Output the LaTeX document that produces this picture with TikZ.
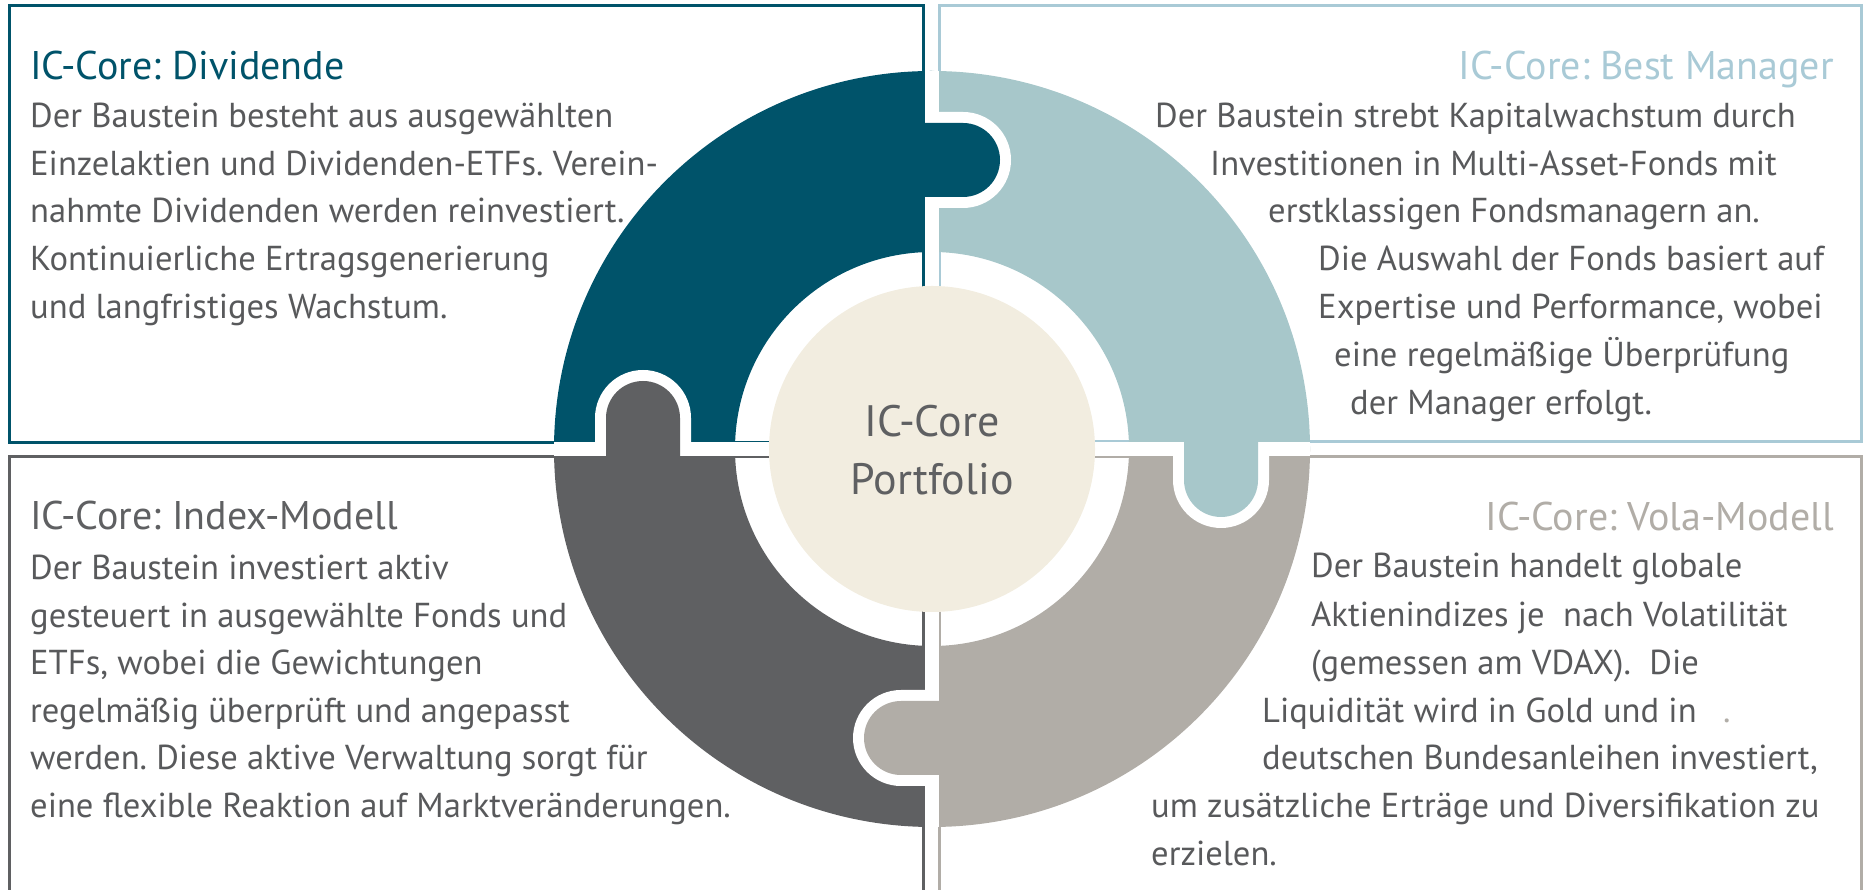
\documentclass[tikz,border=0pt]{standalone}
\usepackage{fontspec}
\setmainfont{PT Sans}
\frenchspacing

\definecolor{divteal}{HTML}{00536A}
\definecolor{bestblue}{HTML}{A7C7CA}
\definecolor{bestline}{HTML}{A9CAD6}
\definecolor{indexgray}{HTML}{5F6062}
\definecolor{volagray}{HTML}{B1ADA7}
\definecolor{corebeige}{HTML}{F2EDE0}
\definecolor{bodytext}{HTML}{58595B}

\begin{document}
\begin{tikzpicture}[
	%	style def
    x=1pt, y=1pt,
    box line/.style={line width=3pt},
    body/.style={anchor=base west, inner sep=0pt, text=bodytext, font=\fontsize{34.6}{40}\selectfont},
    title/.style={inner sep=0pt, font=\fontsize{40}{46}\selectfont},
    core/.style={anchor=base, inner sep=0pt, text=indexgray, font=\fontsize{44}{50}\selectfont}
    ]

    % page frame
    \useasboundingbox (0,0) rectangle (1863,890);
    \clip (0,0) rectangle (1863,890);

    % frames of the four building blocks
    \draw[box line, divteal] (9.7,447.5) rectangle (923.5,884.7);
    \draw[box line, bestline] (939.5,448.5) rectangle (1861.7,884.7);
    \draw[box line, indexgray] (9.7,-20) rectangle (923.8,433.3);
    \draw[box line, volagray] (939.5,-20) rectangle (1861.7,433);

    % puzzle ring round the centre
    \begin{scope}[shift={(932,441)}]
      \fill[divteal] (180:378) arc[start angle=180, end angle=90, radius=378] -- (90:197) arc[start angle=90, end angle=180, radius=197] -- cycle;
      \fill[bestblue] (90:378) arc[start angle=90, end angle=0, radius=378] -- (0:197) arc[start angle=0, end angle=90, radius=197] -- cycle;
      \fill[volagray] (0:378) arc[start angle=0, end angle=-90, radius=378] -- (-90:197) arc[start angle=-90, end angle=0, radius=197] -- cycle;
      \fill[indexgray] (-90:378) arc[start angle=-90, end angle=-180, radius=378] -- (-180:197) arc[start angle=-180, end angle=-90, radius=197] -- cycle;
      % white joints
      \fill[white] (-7,-378) rectangle (7,378);
      \fill[white] (-378,-7) rectangle (378,7);
      % tab of Dividende into Best Manager
      \fill[white] (0,337) -- (31,337) arc[start angle=90, end angle=-90, radius=48] -- (0,241) -- cycle;
      \fill[divteal] (-10,326) -- (31,326) arc[start angle=90, end angle=-90, radius=37] -- (-10,252) -- cycle;
      % tab of Best Manager into Vola-Modell
      \fill[white] (241,0) -- (241,-31) arc[start angle=180, end angle=360, radius=48] -- (337,0) -- cycle;
      \fill[bestblue] (252,10) -- (252,-31) arc[start angle=180, end angle=360, radius=37] -- (326,10) -- cycle;
      % tab of Index-Modell into Dividende
      \fill[white] (-337,0) -- (-337,31) arc[start angle=180, end angle=0, radius=48] -- (-241,0) -- cycle;
      \fill[indexgray] (-326,-10) -- (-326,31) arc[start angle=180, end angle=0, radius=37] -- (-252,-10) -- cycle;
      % tab of Vola-Modell into Index-Modell
      \fill[white] (0,-241) -- (-31,-241) arc[start angle=90, end angle=270, radius=48] -- (0,-337) -- cycle;
      \fill[volagray] (10,-252) -- (-31,-252) arc[start angle=90, end angle=270, radius=37] -- (10,-326) -- cycle;
      % centre disc
      \fill[corebeige] (0,0) circle (163);
    \end{scope}

    \node[core] (core1) at (932,453) {IC-Core};
    \node[core] (core2) at (932,395) {Portfolio};

    % IC-Core: Dividende
    \node[title, anchor=base west, text=divteal] (divT) at (30,810) {IC-Core: Dividende};
    \node[body] (div1) at (30,762) {Der Baustein besteht aus ausgewählten};
    \node[body] (div2) at (30,714) {Einzelaktien und Dividenden-ETFs. Verein-};
    \node[body] (div3) at (30,667) {nahmte Dividenden werden reinvestiert.};
    \node[body] (div4) at (30,619) {Kontinuierliche Ertragsgenerierung};
    \node[body] (div5) at (30,571) {und langfristiges Wachstum.};

    % IC-Core: Best Manager
    \node[title, anchor=base east, text=bestline] (bmT) at (1834,810) {IC-Core: Best Manager};
    \node[body] (bm1) at (1155,762) {Der Baustein strebt Kapitalwachstum durch};
    \node[body] (bm2) at (1210,714) {Investitionen in Multi-Asset-Fonds mit};
    \node[body] (bm3) at (1268,667) {erstklassigen Fondsmanagern an.};
    \node[body] (bm4) at (1318,619) {Die Auswahl der Fonds basiert auf};
    \node[body] (bm5) at (1318,571) {Expertise und Performance, wobei};
    \node[body] (bm6) at (1334,523) {eine regelmäßige Überprüfung};
    \node[body] (bm7) at (1350,475) {der Manager erfolgt.};

    % IC-Core: Index-Modell
    \node[title, anchor=base west, text=indexgray] (idxT) at (30,360) {IC-Core: Index-Modell};
    \node[body] (idx1) at (30,310) {Der Baustein investiert aktiv};
    \node[body] (idx2) at (30,262) {gesteuert in ausgewählte Fonds und};
    \node[body] (idx3) at (30,215) {ETFs, wobei die Gewichtungen};
    \node[body] (idx4) at (30,167) {regelmäßig überprüft und angepasst};
    \node[body] (idx5) at (30,120) {werden. Diese aktive Verwaltung sorgt für};
    \node[body] (idx6) at (30,72) {eine flexible Reaktion auf Marktveränderungen.};

    % IC-Core: Vola-Modell
    \node[title, anchor=base east, text=volagray] (volT) at (1834,359) {IC-Core: Vola-Modell};
    \node[body] (vol1) at (1311,312) {Der Baustein handelt globale};
    \node[body] (vol2) at (1311,263) {Aktienindizes je\ \ nach Volatilität};
    \node[body] (vol3) at (1311,215) {(gemessen am VDAX).\ \ Die};
    \node[body] (vol4) at (1262,167) {Liquidität wird in Gold und in};
    \node[body, text=volagray] (volDot) at (1723,167) {.};
    \node[body] (vol5) at (1262,120) {deutschen Bundesanleihen investiert,};
    \node[body] (vol6) at (1151,72) {um zusätzliche Erträge und Diversifikation zu};
    \node[body] (vol7) at (1151,24) {erzielen.};
\end{tikzpicture}
\end{document}
